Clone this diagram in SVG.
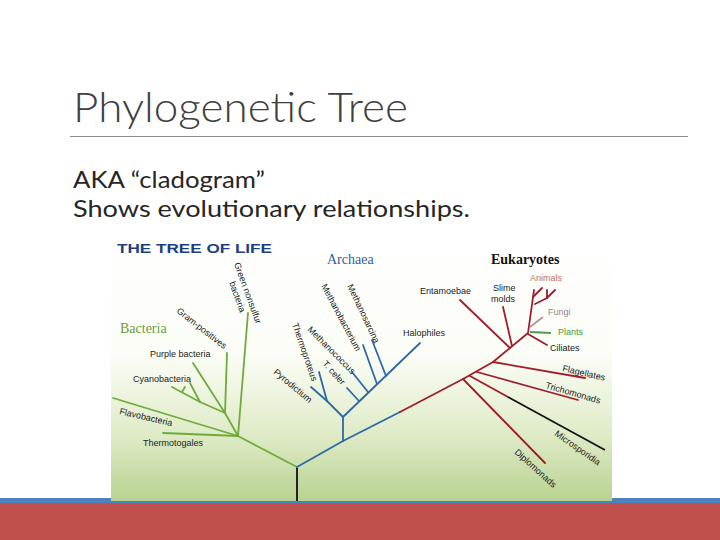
<svg xmlns="http://www.w3.org/2000/svg" width="720" height="540" viewBox="0 0 720 540">
<defs>
<linearGradient id="bg" x1="0" y1="0" x2="0" y2="1">
<stop offset="0" stop-color="#ffffff"/>
<stop offset="0.45" stop-color="#fbfdf6"/>
<stop offset="0.75" stop-color="#deebc6"/>
<stop offset="1" stop-color="#b9d291"/>
</linearGradient>
<style>
.lbl{font-family:"Liberation Sans",Arial,sans-serif;font-size:9px;fill:#222}
.g{stroke:#6fab3c;stroke-width:1.8;fill:none;stroke-linecap:round}
.b{stroke:#2d68a8;stroke-width:1.8;fill:none;stroke-linecap:round}
.r{stroke:#a01c2a;stroke-width:1.8;fill:none;stroke-linecap:round;stroke-linejoin:round}
.k{stroke:#111;stroke-width:1.8;fill:none}
.hdr{font-family:"Liberation Serif","Times New Roman",serif;font-size:14px}
.main{font-family:Lato,"Liberation Sans",Arial,sans-serif}
</style>
</defs>
<rect x="0" y="0" width="720" height="540" fill="#ffffff"/>
<rect x="0" y="498" width="720" height="6" fill="#4f81bd"/>
<rect x="0" y="503" width="720" height="37" fill="#c0504d"/>
<g id="title">
<text class="main" x="73" y="122" font-size="42" font-weight="300" fill="#404040" textLength="335" lengthAdjust="spacingAndGlyphs">Phylogenetic Tree</text>
<line x1="70" y1="136.5" x2="688" y2="136.5" stroke="#8c8c8c" stroke-width="1"/>
<text class="main" x="73" y="188" font-size="23" fill="#262626" textLength="192" lengthAdjust="spacingAndGlyphs">AKA “cladogram”</text>
<text class="main" x="73" y="217" font-size="23" fill="#262626" textLength="397" lengthAdjust="spacingAndGlyphs">Shows evolutionary relationships.</text>
</g>
<rect id="picture" x="111" y="237" width="501" height="264" fill="url(#bg)"/>
<g id="connectors">
<line class="k" x1="297" y1="467" x2="297" y2="501"/>
<g id="bacteria-lines">
<line class="g" x1="297" y1="467" x2="238" y2="436"/>
<line class="g" x1="238" y1="436" x2="163" y2="433"/>
<line class="g" x1="238" y1="436" x2="113" y2="398"/>
<line class="g" x1="238" y1="436" x2="248" y2="313"/>
<line class="g" x1="238" y1="436" x2="225" y2="413"/>
<line class="g" x1="225" y1="413" x2="227" y2="353"/>
<line class="g" x1="225" y1="413" x2="193" y2="363"/>
<line class="g" x1="225" y1="413" x2="200" y2="402"/>
<line class="g" x1="200" y1="402" x2="172" y2="387"/>
<line class="g" x1="200" y1="402" x2="190" y2="383"/>
<line class="g" x1="182" y1="392" x2="185" y2="387"/>
</g>
<g id="archaea-lines">
<line class="b" x1="297" y1="467" x2="343" y2="441"/>
<line class="b" x1="343" y1="441" x2="343" y2="417"/>
<line class="b" x1="343" y1="441" x2="400" y2="412"/>
<line class="b" x1="343" y1="417" x2="327" y2="401"/>
<line class="b" x1="327" y1="401" x2="311" y2="387"/>
<line class="b" x1="327" y1="401" x2="319" y2="372"/>
<line class="b" x1="343" y1="417" x2="420" y2="343"/>
<line class="b" x1="359" y1="401" x2="347" y2="388"/>
<line class="b" x1="368" y1="392" x2="352" y2="372"/>
<line class="b" x1="377" y1="384" x2="363" y2="345"/>
<line class="b" x1="386" y1="376" x2="372" y2="340"/>
</g>
<g id="eukaryote-lines">
<polyline class="r" points="400,412 463,379 493,362 528,333 534,290"/>
<line class="r" x1="463" y1="379" x2="545" y2="463"/>
<line class="r" x1="470" y1="376" x2="508" y2="397"/>
<line class="k" x1="508" y1="397" x2="605" y2="450"/>
<line class="r" x1="477" y1="372" x2="578" y2="400"/>
<line class="r" x1="493" y1="362" x2="585" y2="378"/>
<line class="r" x1="510" y1="348" x2="460" y2="300"/>
<line class="r" x1="512" y1="346" x2="503" y2="307"/>
<line class="r" x1="528" y1="334" x2="547" y2="345"/>
<line x1="530" y1="332" x2="551" y2="333" stroke="#4f9a4f" stroke-width="1.8"/>
<line x1="530" y1="327" x2="543" y2="317" stroke="#b393a3" stroke-width="1.8"/>
<line class="r" x1="533" y1="297" x2="542" y2="288"/>
<polyline class="r" points="535,304 547,298 547,290"/>
<line class="r" x1="547" y1="298" x2="555" y2="290"/>
</g>
</g>
<g id="header">
<text x="117" y="253" font-family="'Liberation Sans',Arial,sans-serif" font-size="13.5" font-weight="bold" fill="#1d3f7e" textLength="155" lengthAdjust="spacingAndGlyphs">THE TREE OF LIFE</text>
</g>
<g id="bacteria">
<text class="hdr" x="120" y="333" fill="#6a9e3c">Bacteria</text>
<g transform="translate(234,264) rotate(70)"><text class="lbl" x="32" y="0" text-anchor="middle">Green nonsulfur</text><text class="lbl" x="32" y="11" text-anchor="middle">bacteria</text></g>
<text class="lbl" transform="translate(176,312) rotate(38)">Gram-positives</text>
<text class="lbl" x="150" y="357">Purple bacteria</text>
<text class="lbl" x="133" y="382">Cyanobacteria</text>
<text class="lbl" transform="translate(119,414) rotate(13)">Flavobacteria</text>
<text class="lbl" x="143" y="446">Thermotogales</text>
</g>
<g id="archaea">
<text class="hdr" x="327" y="264" fill="#2f5f9f">Archaea</text>
<text class="lbl" transform="translate(347,286) rotate(64.6)">Methanosarcina</text>
<text class="lbl" transform="translate(321,286) rotate(62)">Methanobacterium</text>
<text class="lbl" transform="translate(307,330) rotate(45)">Methanococcus</text>
<text class="lbl" transform="translate(322,364) rotate(48)">T. celer</text>
<text class="lbl" transform="translate(292,324) rotate(71)">Thermoproteus</text>
<text class="lbl" transform="translate(273,373) rotate(40)">Pyrodictium</text>
<text class="lbl" x="403" y="336">Halophiles</text>
</g>
<g id="eukaryotes">
<text class="hdr" x="491" y="264" fill="#111" font-weight="bold" font-size="13">Eukaryotes</text>
<text class="lbl" x="420" y="294">Entamoebae</text>
<text class="lbl" x="493" y="291">Slime</text>
<text class="lbl" x="491" y="302">molds</text>
<text class="lbl" x="530" y="281" style="fill:#c0705a">Animals</text>
<text class="lbl" x="548" y="315" style="fill:#a08090">Fungi</text>
<text class="lbl" x="558" y="335" style="fill:#4a9a4a">Plants</text>
<text class="lbl" x="550" y="351">Ciliates</text>
<text class="lbl" transform="translate(562,371) rotate(13)">Flagellates</text>
<text class="lbl" transform="translate(545,388) rotate(16)">Trichomonads</text>
<text class="lbl" transform="translate(554,435) rotate(35)">Microsporidia</text>
<text class="lbl" transform="translate(514,453) rotate(42)">Diplomonads</text>
</g>
</svg>
